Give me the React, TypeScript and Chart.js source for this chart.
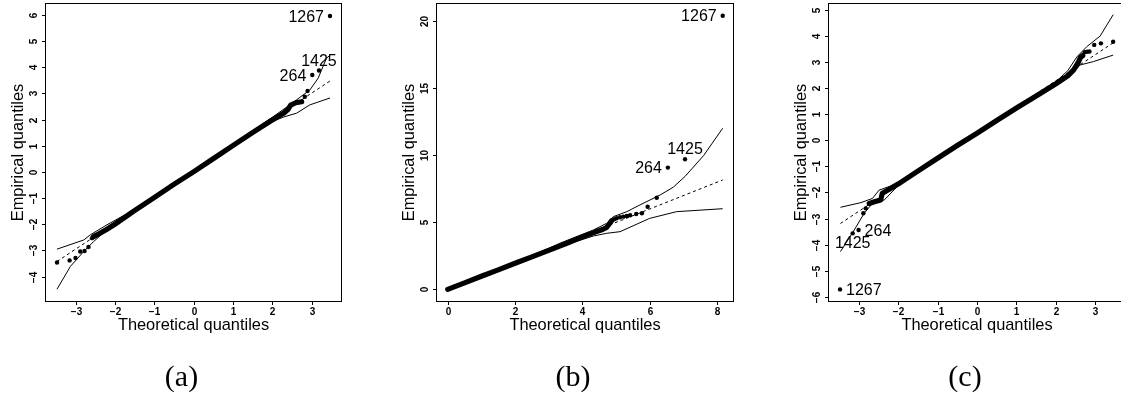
import React, { useEffect, useRef } from 'react';
import { Chart, registerables } from 'chart.js';

Chart.register(...registerables);

// ---------- (a) residual QQ plot, normal reference ----------
const aBandX = [-2.54, -2.4, -2.2, -2.0, -1.5, -1.0, -0.5, 0, 0.5, 1.0, 1.5, 2.0, 2.3, 2.4, 2.47, 2.6, 2.75];
const aBandY = [-2.47, -2.36, -2.19, -2.0, -1.48, -0.98, -0.48, 0.0, 0.5, 1.0, 1.5, 1.98, 2.25, 2.38, 2.55, 2.64, 2.68];
const aPointX = [-3.47, -3.15, -3.0, -2.88, -2.77, -2.67, -2.58, 2.83, 2.9];
const aPointY = [-3.46, -3.38, -3.29, -3.04, -3.02, -2.87, -2.53, 2.87, 3.09];
const aOutlierLabels = ['1267', '1425', '264'];
const aOutlierX = [3.47, 3.19, 3.02];
const aOutlierY = [5.95, 3.87, 3.7];
const aUpperX = [-3.47, -2.79, -2.62, -2.2, -1.5, 0, 1.5, 2.0, 2.45, 2.96, 3.17, 3.38, 3.47];
const aUpperY = [-2.95, -2.6, -2.4, -2.02, -1.44, 0.04, 1.56, 2.08, 2.56, 3.13, 3.58, 4.34, 4.45];
const aLowerX = [-3.47, -3.13, -2.79, -2.54, -2.2, -1.5, 0, 1.5, 2.0, 2.3, 2.62, 2.96, 3.47];
const aLowerY = [-4.48, -3.61, -3.04, -2.66, -2.21, -1.55, -0.04, 1.45, 1.92, 2.1, 2.24, 2.56, 2.82];
const aRefX = [-3.47, 3.47];
const aRefY = [-3.42, 3.47];
const aXTicks = [-3, -2, -1, 0, 1, 2, 3];
const aYTicks = [-4, -3, -2, -1, 0, 1, 2, 3, 4, 5, 6];

// ---------- (b) squared residuals against chi-square quantiles ----------
const bBandX = [0, 0.5, 1, 1.5, 2, 2.5, 3, 3.5, 4, 4.4, 4.6, 4.72, 4.8, 4.87];
const bBandY = [0, 0.48, 0.97, 1.45, 1.94, 2.42, 2.9, 3.38, 3.9, 4.28, 4.45, 4.6, 4.86, 5.11];
const bPointX = [4.95, 5.02, 5.12, 5.22, 5.32, 5.42, 5.6, 5.77, 5.94, 6.21];
const bPointY = [5.22, 5.29, 5.36, 5.41, 5.46, 5.51, 5.61, 5.66, 6.15, 6.82];
const bOutlierLabels = ['1267', '1425', '264'];
const bOutlierX = [8.17, 7.05, 6.54];
const bOutlierY = [20.37, 9.68, 9.06];
const bUpperX = [0, 1, 2, 3, 3.33, 4.33, 4.72, 4.92, 5.32, 5.71, 6.31, 6.7, 7.05, 7.6, 8.17];
const bUpperY = [0.02, 1.0, 2.0, 3.05, 3.43, 4.42, 4.91, 5.41, 5.78, 6.28, 7.02, 7.6, 8.4, 9.95, 11.99];
const bLowerX = [0, 1, 2, 3, 3.33, 4.33, 4.72, 5.12, 6.0, 6.8, 8.17];
const bLowerY = [-0.02, 0.95, 1.88, 2.8, 3.17, 3.97, 4.17, 4.29, 5.28, 5.78, 6.0];
const bRefX = [0, 8.17];
const bRefY = [0, 8.14];
const bXTicks = [0, 2, 4, 6, 8];
const bYTicks = [0, 5, 10, 15, 20];

// ---------- (c) transformed residuals, normal reference ----------
const cBandX = [-2.73, -2.6, -2.44, -2.4, -2.2, -2.0, -1.5, -1.0, -0.5, 0, 0.5, 1.0, 1.5, 2.0, 2.3, 2.45, 2.57, 2.62, 2.68];
const cBandY = [-2.42, -2.36, -2.29, -2.03, -1.86, -1.68, -1.18, -0.69, -0.2, 0.27, 0.76, 1.24, 1.7, 2.17, 2.47, 2.7, 3.0, 3.18, 3.25];
const cPointX = [-2.88, -2.82, 2.73, 2.79, 2.85, 2.97, 3.14, 3.45];
const cPointY = [-2.8, -2.61, 3.38, 3.4, 3.41, 3.66, 3.72, 3.78];
const cOutlierLabels = ['1267', '1425', '264'];
const cOutlierX = [-3.47, -3.15, -3.0];
const cOutlierY = [-5.72, -3.57, -3.44];
const cUpperX = [-3.46, -2.94, -2.65, -2.48, -2.2, -2, -1, 0, 1, 2, 2.3, 2.53, 2.78, 3.12, 3.45];
const cUpperY = [-2.57, -2.39, -2.23, -1.91, -1.76, -1.62, -0.64, 0.32, 1.28, 2.25, 2.67, 3.2, 3.59, 4.0, 4.82];
const cLowerX = [-3.46, -3.11, -2.86, -2.65, -2.35, -2, -1, 0, 1, 2, 2.44, 2.61, 2.95, 3.45];
const cLowerY = [-4.27, -3.44, -2.8, -2.42, -2.29, -1.74, -0.74, 0.22, 1.18, 2.1, 2.6, 2.89, 3.02, 3.27];
const cRefX = [-3.46, 3.45];
const cRefY = [-3.19, 3.74];
const cXTicks = [-3, -2, -1, 0, 1, 2, 3];
const cYTicks = [-6, -5, -4, -3, -2, -1, 0, 1, 2, 3, 4, 5];

const SANS = '"Liberation Sans", Arial, Helvetica, sans-serif';
const SERIF = '"Liberation Serif", "Times New Roman", serif';
const CANVAS_H = 396;

const zip = (xs: number[], ys: number[]) => xs.map((x, i) => ({ x, y: ys[i] }));
const fmt = (v: number) => (v < 0 ? '\u2212' + Math.abs(v) : String(v));

type Side = 'left' | 'right' | 'above' | 'below';

interface PanelCfg {
  caption: string;
  canvasLeft: number;
  canvasWidth: number;
  box: { left: number; right: number; top: number; bottom: number };
  xRange: [number, number];
  yRange: [number, number];
  xTicks: number[];
  yTicks: number[];
  bandX: number[];
  bandY: number[];
  pointX: number[];
  pointY: number[];
  outLabels: string[];
  outX: number[];
  outY: number[];
  outSides: Side[];
  upperX: number[];
  upperY: number[];
  lowerX: number[];
  lowerY: number[];
  refX: number[];
  refY: number[];
}

const panels: PanelCfg[] = [
  {
    caption: '(a)',
    canvasLeft: 0,
    canvasWidth: 380,
    box: { left: 46, right: 341, top: 4, bottom: 301 },
    xRange: [-3.75, 3.75],
    yRange: [-4.93, 6.41],
    xTicks: aXTicks, yTicks: aYTicks,
    bandX: aBandX, bandY: aBandY, pointX: aPointX, pointY: aPointY,
    outLabels: aOutlierLabels, outX: aOutlierX, outY: aOutlierY,
    outSides: ['left', 'above', 'left'],
    upperX: aUpperX, upperY: aUpperY, lowerX: aLowerX, lowerY: aLowerY,
    refX: aRefX, refY: aRefY,
  },
  {
    caption: '(b)',
    canvasLeft: 380,
    canvasWidth: 370,
    box: { left: 437, right: 733, top: 4, bottom: 301 },
    xRange: [-0.319, 8.476],
    yRange: [-0.87, 21.24],
    xTicks: bXTicks, yTicks: bYTicks,
    bandX: bBandX, bandY: bBandY, pointX: bPointX, pointY: bPointY,
    outLabels: bOutlierLabels, outX: bOutlierX, outY: bOutlierY,
    outSides: ['left', 'above', 'left'],
    upperX: bUpperX, upperY: bUpperY, lowerX: bLowerX, lowerY: bLowerY,
    refX: bRefX, refY: bRefY,
  },
  {
    caption: '(c)',
    canvasLeft: 760,
    canvasWidth: 375,
    box: { left: 829, right: 1125, top: 4, bottom: 301 },
    xRange: [-3.75, 3.75],
    yRange: [-6.165, 5.23],
    xTicks: cXTicks, yTicks: cYTicks,
    bandX: cBandX, bandY: cBandY, pointX: cPointX, pointY: cPointY,
    outLabels: cOutlierLabels, outX: cOutlierX, outY: cOutlierY,
    outSides: ['right', 'below', 'right'],
    upperX: cUpperX, upperY: cUpperY, lowerX: cLowerX, lowerY: cLowerY,
    refX: cRefX, refY: cRefY,
  },
];

// Draws the R-style frame: box, outward ticks, rotated y labels, titles,
// identified-point labels and the panel caption.
const rFrame = {
  id: 'rFrame',
  afterDraw(chart: any, _args: any, opts: any) {
    const { ctx, chartArea: a } = chart;
    const xs = chart.scales.x;
    const ys = chart.scales.y;
    ctx.save();
    ctx.strokeStyle = '#000';
    ctx.fillStyle = '#000';
    ctx.lineWidth = 1;
    ctx.strokeRect(a.left - 0.5, a.top - 0.5, a.right - a.left + 1, a.bottom - a.top + 1);

    ctx.font = `bold 10px ${SANS}`;
    ctx.textAlign = 'center';
    ctx.textBaseline = 'alphabetic';
    for (const t of xs.ticks) {
      const px = Math.round(xs.getPixelForValue(t.value)) + 0.5;
      ctx.beginPath();
      ctx.moveTo(px, a.bottom);
      ctx.lineTo(px, a.bottom + 4);
      ctx.stroke();
      ctx.fillText(fmt(t.value), px, a.bottom + 13.5);
    }
    for (const t of ys.ticks) {
      const py = Math.round(ys.getPixelForValue(t.value)) + 0.5;
      ctx.beginPath();
      ctx.moveTo(a.left - 4, py);
      ctx.lineTo(a.left, py);
      ctx.stroke();
      ctx.save();
      ctx.translate(a.left - 9.5, py);
      ctx.rotate(-Math.PI / 2);
      ctx.fillText(fmt(t.value), 0, 0);
      ctx.restore();
    }

    ctx.font = `16.4px ${SANS}`;
    ctx.fillText('Theoretical quantiles', (a.left + a.right) / 2, a.bottom + 29);
    ctx.save();
    ctx.translate(a.left - 23.5, (a.top + a.bottom) / 2);
    ctx.rotate(-Math.PI / 2);
    ctx.fillText('Empirical quantiles', 0, 0);
    ctx.restore();

    ctx.font = `16px ${SANS}`;
    const labels: string[] = opts.labels;
    labels.forEach((txt, i) => {
      const px = xs.getPixelForValue(opts.xs[i]);
      const py = ys.getPixelForValue(opts.ys[i]);
      const side: Side = opts.sides[i];
      if (side === 'left') {
        ctx.textAlign = 'right';
        ctx.fillText(txt, px - 6, py + 5.7);
      } else if (side === 'right') {
        ctx.textAlign = 'left';
        ctx.fillText(txt, px + 6, py + 5.7);
      } else if (side === 'above') {
        ctx.textAlign = 'center';
        ctx.fillText(txt, px, py - 5);
      } else {
        ctx.textAlign = 'center';
        ctx.fillText(txt, px, py + 14.7);
      }
    });

    ctx.font = `30px ${SERIF}`;
    ctx.textAlign = 'center';
    ctx.fillText(opts.caption, (a.left + a.right) / 2 - 12, 386);
    ctx.restore();
  },
};

function QQPanel({ cfg }: { cfg: PanelCfg }) {
  const ref = useRef<HTMLCanvasElement>(null);

  useEffect(() => {
    const canvas = ref.current;
    if (!canvas) return;
    const b = cfg.box;
    const line = (xs: number[], ys: number[], extra: any) => ({
      data: zip(xs, ys),
      showLine: true,
      borderColor: '#000',
      backgroundColor: '#000',
      pointRadius: 0,
      tension: 0,
      fill: false,
      ...extra,
    });
    const chart = new Chart(canvas, {
      type: 'scatter',
      data: {
        datasets: [
          {
            label: 'observations',
            data: zip(cfg.pointX.concat(cfg.outX), cfg.pointY.concat(cfg.outY)),
            showLine: false,
            pointRadius: 2.2,
            pointBackgroundColor: '#000',
            pointBorderWidth: 0,
            order: 0,
          },
          line(cfg.bandX, cfg.bandY, {
            label: 'observations (dense)',
            borderWidth: 5.2,
            borderCapStyle: 'round',
            borderJoinStyle: 'round',
            order: 1,
          }),
          line(cfg.refX, cfg.refY, { label: 'reference', borderWidth: 1, borderDash: [3, 3], order: 2 }),
          line(cfg.upperX, cfg.upperY, { label: 'upper envelope', borderWidth: 1, order: 3 }),
          line(cfg.lowerX, cfg.lowerY, { label: 'lower envelope', borderWidth: 1, order: 3 }),
        ] as any,
      },
      options: {
        animation: false,
        responsive: false,
        devicePixelRatio: 1,
        layout: {
          padding: { left: 0, top: b.top, right: cfg.canvasLeft + cfg.canvasWidth - b.right, bottom: 0 },
        },
        scales: {
          x: {
            type: 'linear',
            min: cfg.xRange[0],
            max: cfg.xRange[1],
            grid: { display: false },
            border: { display: false },
            ticks: { display: false },
            afterBuildTicks: (s: any) => {
              s.ticks = cfg.xTicks.map((v) => ({ value: v }));
            },
            afterFit: (s: any) => {
              s.height = CANVAS_H - b.bottom;
            },
          },
          y: {
            type: 'linear',
            min: cfg.yRange[0],
            max: cfg.yRange[1],
            grid: { display: false },
            border: { display: false },
            ticks: { display: false },
            afterBuildTicks: (s: any) => {
              s.ticks = cfg.yTicks.map((v) => ({ value: v }));
            },
            afterFit: (s: any) => {
              s.width = b.left - cfg.canvasLeft;
            },
          },
        },
        plugins: {
          legend: { display: false },
          tooltip: { enabled: false },
          rFrame: {
            labels: cfg.outLabels,
            xs: cfg.outX,
            ys: cfg.outY,
            sides: cfg.outSides,
            caption: cfg.caption,
          },
        } as any,
      },
      plugins: [rFrame],
    });
    return () => chart.destroy();
  }, [cfg]);

  return (
    <canvas
      ref={ref}
      width={cfg.canvasWidth}
      height={CANVAS_H}
      style={{ position: 'absolute', left: cfg.canvasLeft, top: 0, width: cfg.canvasWidth, height: CANVAS_H }}
    />
  );
}

export default function App() {
  return (
    <div
      style={{
        position: 'absolute',
        left: 0,
        top: 0,
        width: 1121,
        height: 396,
        overflow: 'hidden',
        background: '#fff',
      }}
    >
      {panels.map((p) => (
        <QQPanel key={p.caption} cfg={p} />
      ))}
    </div>
  );
}
